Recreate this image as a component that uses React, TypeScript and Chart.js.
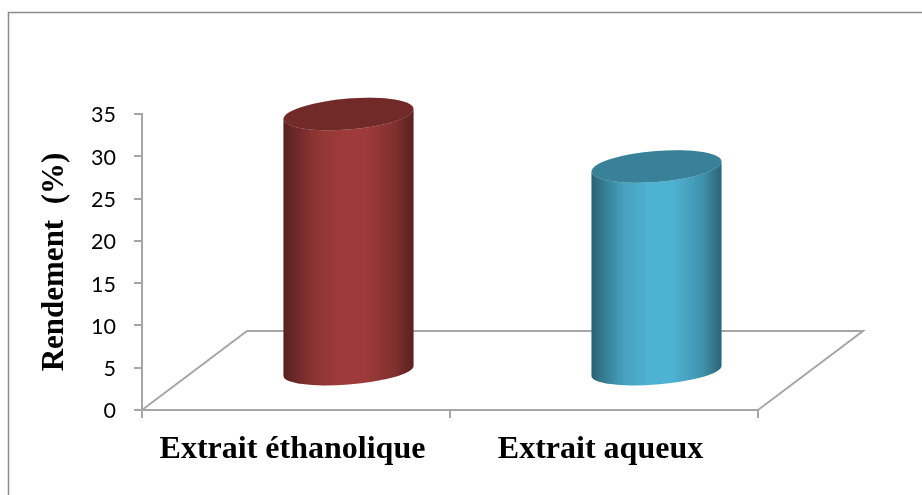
import React, { useEffect, useRef } from "react";
import { Chart, BarController, BarElement, CategoryScale, LinearScale } from "chart.js";

// Yield of each extract, in percent
const categories = ["Extrait éthanolique", "Extrait aqueux"];
const rendement = [30.5, 24.3];
const barColors = ["#9E3B3A", "#4EB3D3"];
const axisTitle = "Rendement\u00A0 (%)";
const axisMax = 35;
const axisStep = 5;

const AXIS_GREY = "#A6A6A6";
const FRAME_GREY = "#8C8C8C";
const SERIF = '"Liberation Serif", "Times New Roman", serif';

// Projection of the floor's depth onto the screen
const FLOOR_DX = 105;
const FLOOR_DY = 79;
// How far the cylinders stand behind the front edge of the floor
const CYLINDER_DX = 52.5;
const CYLINDER_DY = 38;

// Shade stops across a cylinder's side, as black opacity from left to right
const sideShade: [number, number][] = [
  [0, 0.46],
  [0.08, 0.33],
  [0.25, 0.1],
  [0.45, 0],
  [0.62, 0],
  [0.85, 0.18],
  [1, 0.44],
];

class CylinderElement extends BarElement {
  static id = "cylinderElement";
  static defaults = BarElement.defaults;

  draw(ctx: CanvasRenderingContext2D) {
    const { x, y, base, width } = (this as any).getProps(["x", "y", "base", "width"], true);
    const color = (this as any).options.backgroundColor;
    const cx = x + CYLINDER_DX;
    const topY = y - CYLINDER_DY;
    const baseY = base - CYLINDER_DY;
    const rx = width / 2;
    const tilt = 5;

    // One end of the cylinder: `ry` is its vertical half-axis
    const ringPath = (cy: number, ry: number, from: number, to: number, ccw: boolean) => {
      ctx.save();
      ctx.transform(rx, -tilt, 0, ry, cx, cy);
      ctx.arc(0, 0, 1, from, to, ccw);
      ctx.restore();
    };

    ctx.save();
    ctx.beginPath();
    ctx.moveTo(cx - rx, topY + tilt);
    ctx.lineTo(cx - rx, baseY + tilt);
    ringPath(baseY, 13.5, Math.PI, 0, true);
    ctx.lineTo(cx + rx, topY - tilt);
    ringPath(topY, 15.5, 0, Math.PI, false);
    ctx.closePath();
    ctx.fillStyle = color;
    ctx.fill();
    const shade = ctx.createLinearGradient(cx - rx, 0, cx + rx, 0);
    sideShade.forEach(([pos, alpha]) => shade.addColorStop(pos, `rgba(0,0,0,${alpha})`));
    ctx.fillStyle = shade;
    ctx.fill();

    ctx.beginPath();
    ringPath(topY, 15.5, 0, Math.PI * 2, false);
    ctx.closePath();
    ctx.fillStyle = color;
    ctx.fill();
    ctx.fillStyle = "rgba(0,0,0,0.28)";
    ctx.fill();
    ctx.restore();
  }
}

class CylinderController extends BarController {
  static id = "cylinder";
  static defaults = { ...BarController.defaults, dataElementType: "cylinderElement" };
  static overrides = BarController.overrides;
}

Chart.register(CategoryScale, LinearScale, BarElement, CylinderElement as any, CylinderController as any);

// Nudge an axis' tick labels by a fixed amount
const nudgeLabels = (scale: any, dx: number, dy: number) => {
  scale.getLabelItems().forEach((item: any) => {
    if (item.nudged) return;
    item.options.translation[0] += dx;
    item.options.translation[1] += dy;
    item.nudged = true;
  });
};

// Outer frame of the chart, and the floor the cylinders stand on
const backdrop = {
  id: "backdrop",
  beforeDraw(chart: any) {
    nudgeLabels(chart.scales.x, -3.5, 0);
    nudgeLabels(chart.scales.y, 0, 1.5);
    const { ctx, width, height } = chart;
    ctx.save();
    ctx.strokeStyle = FRAME_GREY;
    ctx.lineWidth = 1.5;
    ctx.beginPath();
    ctx.moveTo(8.5, height);
    ctx.lineTo(8.5, 12.5);
    ctx.lineTo(width, 12.5);
    ctx.stroke();
    ctx.restore();
  },
  beforeDatasetsDraw(chart: any) {
    const { ctx, chartArea } = chart;
    const { left, right, bottom } = chartArea;
    ctx.save();
    ctx.strokeStyle = AXIS_GREY;
    ctx.lineWidth = 2;
    ctx.beginPath();
    ctx.moveTo(left, bottom);
    ctx.lineTo(left + FLOOR_DX, bottom - FLOOR_DY);
    ctx.lineTo(right + FLOOR_DX, bottom - FLOOR_DY);
    ctx.lineTo(right, bottom);
    ctx.stroke();
    ctx.restore();
  },
};

export default function App() {
  const canvasRef = useRef<HTMLCanvasElement>(null);

  useEffect(() => {
    const chart = new Chart(canvasRef.current!, {
      type: "cylinder" as any,
      plugins: [backdrop],
      data: {
        labels: categories,
        datasets: [
          {
            data: rendement,
            backgroundColor: barColors,
            categoryPercentage: 1,
            barPercentage: 0.422,
            clip: false,
          } as any,
        ],
      },
      options: {
        responsive: false,
        animation: false,
        events: [],
        layout: { padding: { top: 114, right: 164, left: 0, bottom: 0 } },
        plugins: { legend: { display: false }, tooltip: { enabled: false } },
        scales: {
          x: {
            type: "category",
            offset: true,
            afterFit: (s: any) => { s.height = 85; },
            border: { color: AXIS_GREY, width: 2 },
            grid: { offset: true, drawOnChartArea: false, color: AXIS_GREY, lineWidth: 2, tickLength: 8 },
            ticks: {
              autoSkip: false,
              maxRotation: 0,
              padding: 13,
              color: "#000",
              font: { family: SERIF, size: 32, weight: "bold" },
            },
          },
          y: {
            type: "linear",
            min: 0,
            max: axisMax,
            afterFit: (s: any) => { s.width = 142; },
            border: { color: AXIS_GREY, width: 2 },
            grid: { drawOnChartArea: false, color: AXIS_GREY, lineWidth: 2, tickLength: 8 },
            title: {
              display: true,
              text: axisTitle,
              color: "#000",
              padding: { top: 36, bottom: 0 },
              font: { family: SERIF, size: 31, weight: "bold" },
            },
            ticks: {
              stepSize: axisStep,
              padding: 18,
              color: "#000",
              font: { family: 'Lato, sans-serif', size: 21.5 },
            },
          },
        },
      } as any,
    });
    return () => chart.destroy();
  }, []);

  return (
    <div style={{ position: "fixed", left: 0, top: 0, width: 922, height: 495, background: "#fff" }}>
      <canvas ref={canvasRef} width={922} height={495} style={{ display: "block" }} />
    </div>
  );
}
